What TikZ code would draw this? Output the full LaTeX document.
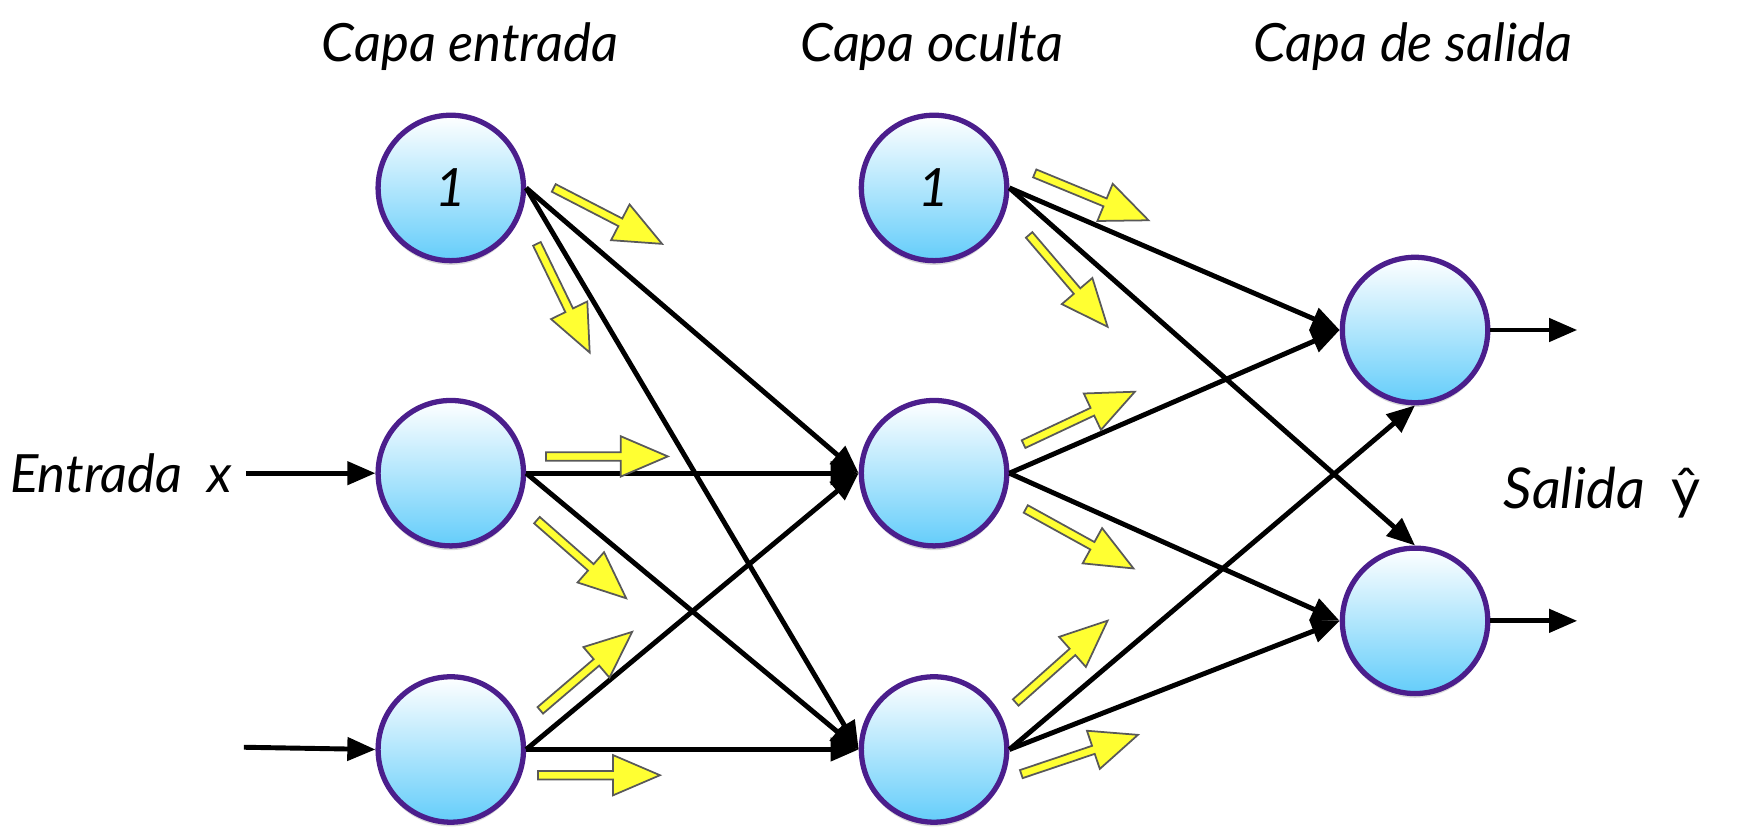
\documentclass[tikz,border=0pt]{standalone}
\usepackage{fontspec}
\setmainfont{Lato}
\usetikzlibrary{arrows.meta,shadows}
\definecolor{morado}{RGB}{75,30,140}
\definecolor{celeste}{RGB}{100,205,250}
\definecolor{amarillo}{RGB}{255,255,50}
\tikzset{
  neurona/.style={circle, draw=morado, line width=1.5pt, top color=white, bottom color=celeste,
    minimum size=1.454cm, inner sep=0pt, font=\itshape\fontsize{15}{18}\selectfont,
    drop shadow={shadow xshift=0pt, shadow yshift=-1.2pt, opacity=0.3}},
  titulo/.style={font=\itshape\fontsize{15}{18}\selectfont, inner sep=0pt},
  flechanegra/.style={line width=1.4pt, -{Triangle[length=8pt,width=6.5pt]}},
  flechaamarilla/.style={fill=amarillo, draw=black!65, line width=0.5pt, line join=miter}
}
% flecha amarilla: inicio, angulo, largo
\newcommand{\flecha}[3]{\draw[flechaamarilla, shift={(#1)}, rotate=#2]
  (0,-3.8) -- (#3-42,-3.8) -- (#3-42,-18) -- (#3,0) -- (#3-42,18) -- (#3-42,3.8) -- (0,3.8) -- cycle;}
\begin{document}
\begin{tikzpicture}[x=0.011186cm, y=0.011186cm]
    \useasboundingbox (0,0) rectangle (1568,746.5);
    % titulos
    \node[titulo] (tentrada) at (420,704.5) {Capa entrada};
    \node[titulo] (toculta) at (833,704.5) {Capa oculta};
    \node[titulo] (tsalida) at (1263,704.5) {Capa de salida};
    % neuronas
    \node[neurona] (e1) at (403,578.5) {1};
    \node[neurona] (e2) at (403,323.5) {};
    \node[neurona] (e3) at (403,76.5) {};
    \node[neurona] (o1) at (835,578.5) {1};
    \node[neurona] (o2) at (835,323.5) {};
    \node[neurona] (o3) at (835,76.5) {};
    \node[neurona] (s1) at (1265,451.5) {};
    \node[neurona] (s2) at (1265,191.5) {};
    % entradas y salidas
    \node[titulo] (entrada) at (108,323.5) {Entrada\ \ x};
    \node[titulo, font=\itshape\fontsize{16}{19}\selectfont] (salida) at (1432,306.5) {Salida\ \ {\upshape ŷ}};
    \coordinate (x1) at (220,323.5);
    \coordinate (x2) at (218,78.5);
    \coordinate (y1) at (1410,451.5);
    \coordinate (y2) at (1410,191.5);
    \draw[flechanegra] (x1) -- (e2.west);
    \draw[flechanegra] (x2) -- (e3.west);
    \draw[flechanegra] (s1.east) -- (y1);
    \draw[flechanegra] (s2.east) -- (y2);
    % conexiones
    \foreach \i in {1,2,3}
      \foreach \j in {2,3}
        \draw[flechanegra] (e\i.east) -- (o\j.west);
    \draw[flechanegra] (o1.east) -- (s1.west);
    \draw[flechanegra] (o1.east) -- (s2.north);
    \draw[flechanegra] (o2.east) -- (s1.west);
    \draw[flechanegra] (o2.east) -- (s2.west);
    \draw[flechanegra] (o3.east) -- (s1.south);
    \draw[flechanegra] (o3.east) -- (s2.west);
    % flechas amarillas
    \flecha{495,578.5}{-27.3}{109}
    \flecha{480,528.5}{-64.1}{108}
    \flecha{488,338.5}{0}{109}
    \flecha{480,281.5}{-41.2}{106}
    \flecha{483,111.5}{40.5}{108}
    \flecha{481,53.5}{0}{109}
    \flecha{925,591.5}{-22.4}{110}
    \flecha{920,536.5}{-49.5}{108}
    \flecha{915,349.5}{25.2}{110}
    \flecha{917,291.5}{-28.9}{110}
    \flecha{908,118.5}{41.7}{110}
    \flecha{913,54.5}{18.6}{110}
\end{tikzpicture}
\end{document}
